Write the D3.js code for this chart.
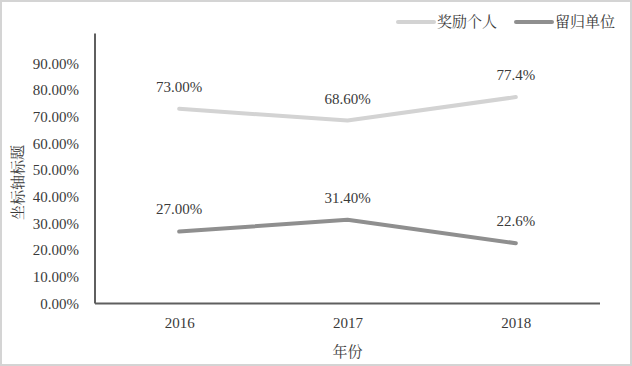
<!DOCTYPE html>
<html>
<head>
<meta charset="utf-8">
<script src="https://cdn.jsdelivr.net/npm/d3@7"></script>
<style>
  body { margin: 0; background: #fff; }
  svg text { font-family: "Liberation Serif", "Noto Serif CJK SC", "Noto Sans CJK SC", serif; fill: #3a3a3a; }
</style>
</head>
<body>
<div id="chart"></div>
<script>
// data
var years = ["2016", "2017", "2018"];
var seriesNames = ["奖励个人", "留归单位"];
var rewardPersonal = [0.73, 0.686, 0.774];
var keptByUnit = [0.27, 0.314, 0.226];
var rewardLabels = ["73.00%", "68.60%", "77.4%"];
var unitLabels = ["27.00%", "31.40%", "22.6%"];
var yTicks = [0, 0.1, 0.2, 0.3, 0.4, 0.5, 0.6, 0.7, 0.8, 0.9];

var width = 632, height = 366;
// note: "top" is taken by window.top, so plot edges get their own names
var plotLeft = 95, plotRight = 600, plotTop = 33.5, plotBottom = 303.5;
var fontFam = '"Liberation Serif", "Noto Serif CJK SC", "Noto Sans CJK SC", serif';

var svg = d3.select("#chart").append("svg")
    .attr("width", width)
    .attr("height", height);

// outer border
svg.append("rect")
    .attr("x", 1).attr("y", 1)
    .attr("width", width - 2).attr("height", height - 2)
    .style("fill", "white")
    .style("stroke", "#d4d4d4")
    .style("stroke-width", 2);

var x = d3.scalePoint().domain(years).range([plotLeft, plotRight]).padding(0.5);
// axis max sits a little above 100%
var y = d3.scaleLinear().domain([0, 1]).range([plotBottom, 36.8]);

// y axis
var yAxis = svg.append("g")
    .attr("transform", "translate(" + plotLeft + ",0)")
    .call(d3.axisLeft(y).tickValues(yTicks).tickSize(0).tickPadding(16)
        .tickFormat(function(d){ return d3.format(".2%")(d); }));
yAxis.select(".domain").attr("d", "M0," + plotBottom + "V" + plotTop)
    .style("stroke", "#5f5f5f").style("stroke-width", 2);
yAxis.selectAll("text").style("font-size", "15px").style("font-family", fontFam);

// x axis
var xAxis = svg.append("g")
    .attr("transform", "translate(0," + plotBottom + ")")
    .call(d3.axisBottom(x).tickSize(0).tickPadding(14));
xAxis.select(".domain").attr("d", "M" + plotLeft + ",0H" + plotRight)
    .style("stroke", "#5f5f5f").style("stroke-width", 2);
xAxis.selectAll("text").style("font-size", "15px").style("font-family", fontFam);

// axis titles
svg.append("text")
    .attr("transform", "translate(23," + ((plotTop + plotBottom) / 2 + 14) + ") rotate(-90)")
    .attr("text-anchor", "middle")
    .style("font-size", "15px")
    .text("坐标轴标题");

svg.append("text")
    .attr("x", (plotLeft + plotRight) / 2)
    .attr("y", 357)
    .attr("text-anchor", "middle")
    .style("font-size", "15px")
    .text("年份");

// lines
var series = [
    {name: seriesNames[0], values: rewardPersonal, labels: rewardLabels, color: "#d3d3d3"},
    {name: seriesNames[1], values: keptByUnit, labels: unitLabels, color: "#8f8f8f"}
];

var line = d3.line()
    .x(function(d, i){ return x(years[i]); })
    .y(function(d){ return y(d); });

series.forEach(function(s){
    svg.append("path")
        .datum(s.values)
        .attr("d", line)
        .style("fill", "none")
        .style("stroke", s.color)
        .style("stroke-width", 4)
        .style("stroke-linecap", "round")
        .style("stroke-linejoin", "round");

    // data labels sit above each point
    svg.selectAll(null)
        .data(s.values)
        .enter().append("text")
        .attr("x", function(d, i){ return x(years[i]); })
        .attr("y", function(d){ return y(d) - 17; })
        .attr("text-anchor", "middle")
        .style("font-size", "15px")
        .text(function(d, i){ return s.labels[i]; });
});

// legend
var legendPos = [398, 516];
var legend = svg.selectAll(".legendItem")
    .data(series)
    .enter().append("g")
    .attr("class", "legendItem")
    .attr("transform", function(d, i){ return "translate(" + legendPos[i] + ",22)"; });

legend.append("line")
    .attr("x1", 0).attr("x2", 36)
    .style("stroke", function(d){ return d.color; })
    .style("stroke-width", 4)
    .style("stroke-linecap", "round");

legend.append("text")
    .attr("x", 39)
    .attr("dy", "0.35em")
    .style("font-size", "15px")
    .text(function(d){ return d.name; });
</script>
</body>
</html>
